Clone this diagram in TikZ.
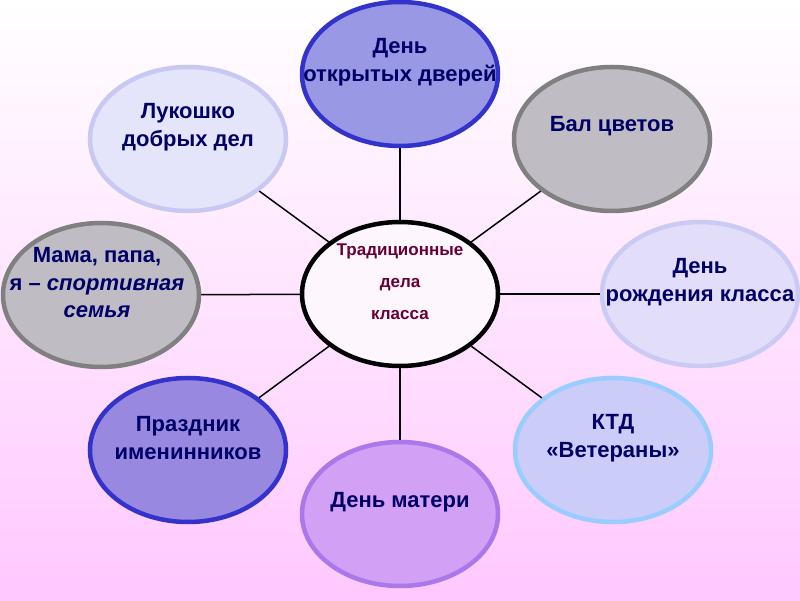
\documentclass[tikz,border=0pt]{standalone}
\usepackage{fontspec}
\setmainfont{Liberation Sans}
\usetikzlibrary{shapes.geometric}
\definecolor{bgbot}{RGB}{255,200,255}
\definecolor{txt}{RGB}{0,0,102}
\definecolor{ctxt}{RGB}{102,0,51}
\definecolor{topfill}{RGB}{152,152,228}
\definecolor{blueline}{RGB}{51,51,204}
\definecolor{lukfill}{RGB}{228,228,250}
\definecolor{lukline}{RGB}{200,200,242}
\definecolor{grayfill}{RGB}{192,188,196}
\definecolor{grayline}{RGB}{128,128,128}
\definecolor{drfill}{RGB}{226,222,250}
\definecolor{drline}{RGB}{202,202,245}
\definecolor{przfill}{RGB}{152,136,224}
\definecolor{ktdfill}{RGB}{204,204,248}
\definecolor{ktdline}{RGB}{153,204,255}
\definecolor{dmfill}{RGB}{210,160,245}
\definecolor{dmline}{RGB}{170,120,235}
\definecolor{cfill}{RGB}{253,246,253}
\tikzset{
  bubble/.style={ellipse, inner sep=0pt, line width=4.5pt, minimum width=196pt, minimum height=144pt},
  lbl/.style={align=center, text=txt, font=\fontsize{22}{27.5}\selectfont\bfseries, inner sep=0pt},
  clbl/.style={align=center, text=ctxt, font=\fontsize{17}{32}\selectfont\bfseries, inner sep=0pt},
  conn/.style={draw=black, line width=1.5pt}
}
\begin{document}
\begin{tikzpicture}[x=1pt,y=1pt]
\useasboundingbox (0,0) rectangle (800,600);
\shade[top color=white, bottom color=bgbot, middle color={rgb,255:red,255;green,228;blue,255}] (0,0) rectangle (800,600);
% bubbles
\node[bubble, fill=cfill, draw=black] (c) at (400,306) {};
\node[bubble, fill=topfill, draw=blueline] (top) at (400,526) {};
\node[bubble, fill=lukfill, draw=lukline] (luk) at (188,461) {};
\node[bubble, fill=grayfill, draw=grayline] (bal) at (612,461) {};
\node[bubble, fill=grayfill, draw=grayline] (mama) at (101,305) {};
\node[bubble, fill=drfill, draw=drline] (dr) at (700,306) {};
\node[bubble, fill=przfill, draw=blueline] (prz) at (188,150) {};
\node[bubble, fill=ktdfill, draw=ktdline] (ktd) at (613,150) {};
\node[bubble, fill=dmfill, draw=dmline] (dm) at (400,86) {};
% connectors
\draw[conn] (c) -- (top);
\draw[conn] (c) -- (luk);
\draw[conn] (c) -- (bal);
\draw[conn] (c) -- (mama);
\draw[conn] (c) -- (dr);
\draw[conn] (c) -- (prz);
\draw[conn] (c) -- (ktd);
\draw[conn] (c) -- (dm);
% labels
\node[clbl] (tc) at ([yshift=12pt]c.center) {Традиционные\\дела\\класса};
\node[lbl] (ttop) at ([yshift=12pt]top.center) {День\\открытых дверей};
\node[lbl] (tluk) at ([yshift=12pt]luk.center) {Лукошко\\добрых дел};
\node[lbl] (tbal) at ([yshift=13pt]bal.center) {Бал цветов};
\node[lbl] (tmama) at ([xshift=-4pt,yshift=12pt]mama.center) {Мама, папа,\\я – \textit{спортивная}\\\textit{семья}};
\node[lbl] (tdr) at ([yshift=12pt]dr.center) {День\\рождения класса};
\node[lbl] (tprz) at ([yshift=12pt]prz.center) {Праздник\\именинников};
\node[lbl] (tktd) at ([yshift=12pt]ktd.center) {КТД\\«Ветераны»};
\node[lbl] (tdm) at ([yshift=12pt]dm.center) {День матери};
\end{tikzpicture}
\end{document}
